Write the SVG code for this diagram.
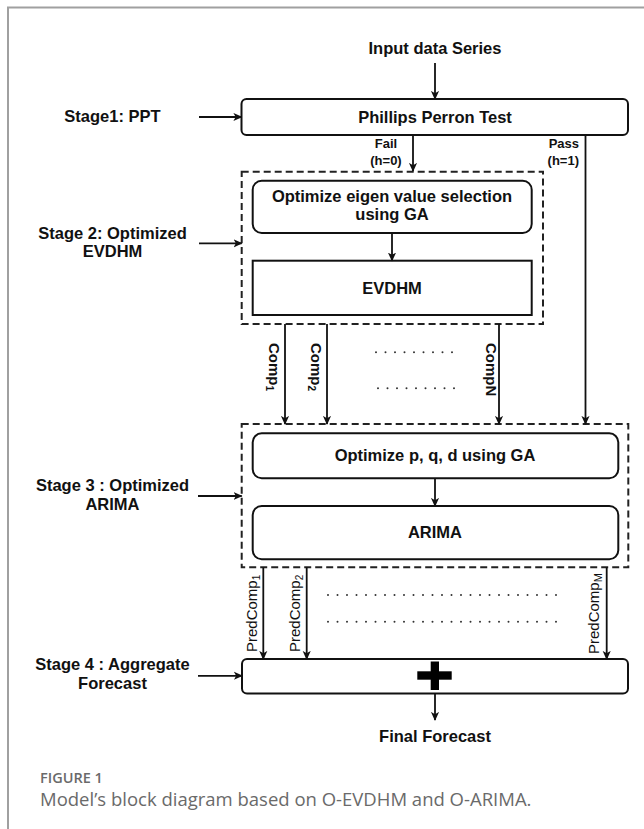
<svg xmlns="http://www.w3.org/2000/svg" width="644" height="829" viewBox="0 0 644 829">
<style>
.lbl{font-family:"Liberation Sans",Arial,Helvetica,sans-serif;font-weight:bold;font-size:16.5px;fill:#111;text-anchor:middle}
.sm{font-family:"Liberation Sans",Arial,Helvetica,sans-serif;font-weight:bold;font-size:13px;fill:#111}
.rot{font-family:"Liberation Sans",Arial,Helvetica,sans-serif;font-size:15px;fill:#111}
.box{fill:#fff;stroke:#111;stroke-width:2}
.dash{fill:none;stroke:#222;stroke-width:2;stroke-dasharray:7 4}
.arr{fill:none;stroke:#111;stroke-width:1.8;marker-end:url(#ah)}
.dots{fill:none;stroke:#333;stroke-width:2;stroke-linecap:round;stroke-dasharray:0 9.5}
.cap{font-family:"Open Sans","Liberation Sans",sans-serif;fill:#6a6a6a}
</style>
<defs>
<marker id="ah" viewBox="0 0 10 10" refX="9" refY="5" markerWidth="9" markerHeight="9" markerUnits="userSpaceOnUse" orient="auto">
<path d="M0,0.5 L10,5 L0,9.5 L2.5,5 z" fill="#111"/>
</marker>
</defs>
<rect width="644" height="829" fill="#fff"/>
<path d="M8,829 L8,7.5 L644,7.5" fill="none" stroke="#a0a0a0" stroke-width="2"/>

<g id="input"><text class="lbl" x="435" y="54">Input data Series</text></g>

<g id="stage1-label"><text class="lbl" x="112.5" y="122">Stage1: PPT</text></g>
<g id="stage2-label"><text class="lbl" x="112.5" y="238.5">Stage 2: Optimized</text><text class="lbl" x="112.5" y="256.5">EVDHM</text></g>
<g id="stage3-label"><text class="lbl" x="112.5" y="491">Stage 3 : Optimized</text><text class="lbl" x="112.5" y="509.5">ARIMA</text></g>
<g id="stage4-label"><text class="lbl" x="112.5" y="669.5">Stage 4 : Aggregate</text><text class="lbl" x="112.5" y="688.5">Forecast</text></g>

<g id="ppt"><rect class="box" x="241.5" y="99" width="386.5" height="36" rx="5"/><text class="lbl" x="435" y="122.5">Phillips Perron Test</text></g>

<g id="stage2"><rect class="dash" x="241.7" y="171.7" width="301.3" height="152.3"/></g>
<g id="eigen"><rect class="box" x="252.7" y="180.7" width="279" height="52.3" rx="9"/><text class="lbl" x="392" y="202">Optimize eigen value selection</text><text class="lbl" x="392" y="220">using GA</text></g>
<g id="evdhm"><rect class="box" x="252.7" y="260.7" width="279" height="54.3"/><text class="lbl" x="392" y="293.5">EVDHM</text></g>

<g id="stage3"><rect class="dash" x="241.7" y="424" width="386.6" height="143.3"/></g>
<g id="pqd"><rect class="box" x="252.7" y="433.3" width="365.6" height="45" rx="9"/><text class="lbl" x="435" y="460.5">Optimize p, q, d using GA</text></g>
<g id="arima"><rect class="box" x="252.7" y="506" width="365.6" height="53.3" rx="9"/><text class="lbl" x="435" y="538">ARIMA</text></g>

<g id="aggregate"><rect class="box" x="242" y="659" width="386" height="34.5" rx="5"/>
<rect x="417.3" y="671.3" width="34.4" height="8.4" fill="#000"/><rect x="430.7" y="661.5" width="8.3" height="28.5" fill="#000"/></g>

<g id="final"><text class="lbl" x="435" y="742">Final Forecast</text></g>

<g id="connectors">
<line class="arr" x1="435" y1="63" x2="435" y2="99"/>
<line class="arr" x1="199" y1="117" x2="241.5" y2="117"/>
<line class="arr" x1="199" y1="243.3" x2="241.7" y2="243.3"/>
<line class="arr" x1="198" y1="496" x2="241.7" y2="496"/>
<line class="arr" x1="198" y1="675.8" x2="242" y2="675.8"/>
<line class="arr" x1="413" y1="135" x2="413" y2="171"/>
<line class="arr" x1="585.5" y1="135" x2="585.5" y2="424"/>
<line class="arr" x1="392" y1="233" x2="392" y2="260.7"/>
<line class="arr" x1="285" y1="324" x2="285" y2="424"/>
<line class="arr" x1="327" y1="324" x2="327" y2="424"/>
<line class="arr" x1="499" y1="324" x2="499" y2="424"/>
<line class="arr" x1="435" y1="478.3" x2="435" y2="506"/>
<line class="arr" x1="263.3" y1="567.3" x2="263.3" y2="659"/>
<line class="arr" x1="306.7" y1="567.3" x2="306.7" y2="659"/>
<line class="arr" x1="606.7" y1="567.3" x2="606.7" y2="659"/>
<line class="arr" x1="435" y1="693.5" x2="435" y2="720"/>
<line class="dots" x1="376" y1="352.3" x2="456" y2="352.3"/>
<line class="dots" x1="378" y1="388.3" x2="458" y2="388.3"/>
<line class="dots" x1="328" y1="595" x2="562" y2="595"/>
<line class="dots" x1="328" y1="621.7" x2="562" y2="621.7"/>
<text class="sm" x="386" y="148" text-anchor="middle">Fail</text>
<text class="sm" x="386" y="165" text-anchor="middle">(h=0)</text>
<text class="sm" x="579" y="148" text-anchor="end">Pass</text>
<text class="sm" x="579" y="165" text-anchor="end">(h=1)</text>
<text class="rot" font-weight="bold" transform="translate(269,343) rotate(90)">Comp<tspan font-size="10" dy="3">1</tspan></text>
<text class="rot" font-weight="bold" transform="translate(311,343) rotate(90)">Comp<tspan font-size="10" dy="3">2</tspan></text>
<text class="rot" font-weight="bold" transform="translate(485.5,343) rotate(90)">Comp<tspan>N</tspan></text>
<text class="rot" transform="translate(256.5,652) rotate(-90)">PredComp<tspan font-size="10" dy="3">1</tspan></text>
<text class="rot" transform="translate(299.5,652) rotate(-90)">PredComp<tspan font-size="10" dy="3">2</tspan></text>
<text class="rot" transform="translate(598.5,654) rotate(-90)">PredComp<tspan font-size="11" dy="3">M</tspan></text>
</g>

<g id="caption">
<text class="cap" x="40" y="783" font-size="14.5" font-weight="600">FIGURE 1</text>
<text class="cap" x="40" y="806" font-size="18.5">Model’s block diagram based on O-EVDHM and O-ARIMA.</text>
</g>
</svg>
